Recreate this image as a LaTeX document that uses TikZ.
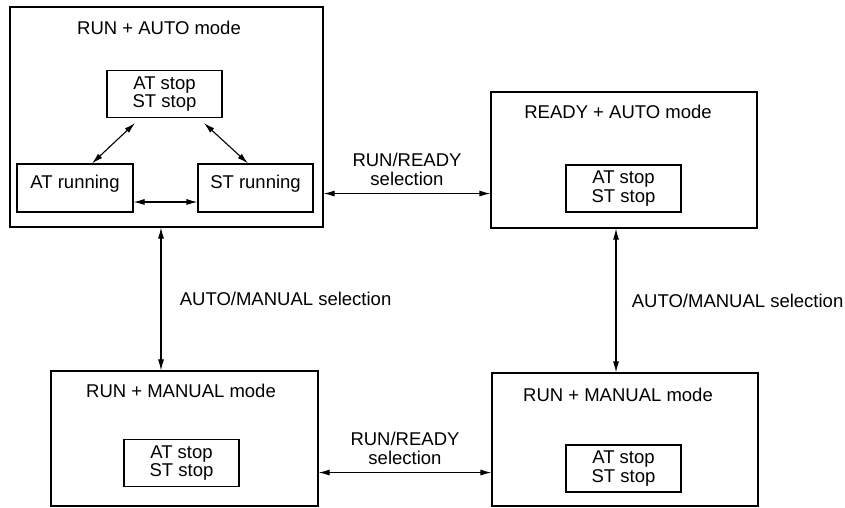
\documentclass[tikz,border=0pt]{standalone}
\usepackage{fontspec}
\setmainfont{Liberation Sans}
\usetikzlibrary{arrows.meta,positioning}
\begin{document}
\begin{tikzpicture}[x=1pt,y=1pt,>={Latex[length=11pt,width=6pt]},line width=1.1pt,
        font=\fontsize{18.5}{18.5}\selectfont,
        modebox/.style={draw, rectangle, minimum width=266pt, inner sep=0pt},
        stopbox/.style={draw, rectangle, minimum width=115pt, minimum height=47pt, align=center, inner sep=0pt},
        runbox/.style={draw, rectangle, minimum width=116pt, minimum height=48pt, text depth=12pt, inner sep=0pt}]
        \useasboundingbox (0,0) rectangle (845,508);

        \node (runauto) [modebox, minimum width=313pt, minimum height=220pt] at (166.5,391) {};
        \node (runautotitle) at ([xshift=-7.5pt,yshift=-21pt]runauto.north) {RUN + AUTO mode};
        \node (stop1) [stopbox] at (164.5,414) {AT stop\\ST stop};
        \node (atrun) [runbox] at (75,320) {AT running};
        \node (strun) [runbox, minimum width=115pt] at (255.5,320) {ST running};

        \node (readyauto) [modebox, minimum height=136pt] at (624,348) {};
        \node (readyautotitle) at ([xshift=-6pt,yshift=-20pt]readyauto.north) {READY + AUTO mode};
        \node (stop2) [stopbox] at (623.5,319.5) {AT stop\\ST stop};

        \node (runmanual) [modebox, minimum width=267pt, minimum height=135pt] at (184.5,69.5) {};
        \node (runmanualtitle) at ([xshift=-3.5pt,yshift=-20pt]runmanual.north) {RUN + MANUAL mode};
        \node (stop4) [stopbox] at (181.5,45) {AT stop\\ST stop};

        \node (runmanualb) [modebox, minimum height=133pt] at (625,68.5) {};
        \node (runmanualbtitle) at ([xshift=-7pt,yshift=-22pt]runmanualb.north) {RUN + MANUAL mode};
        \node (stop3) [stopbox] at (623.5,39.5) {AT stop\\ST stop};

        \draw[<->] ([xshift=-29.5pt,yshift=-5pt]stop1.south) -- ([xshift=17pt]atrun.north);
        \draw[<->] ([xshift=39.5pt,yshift=-5pt]stop1.south) -- ([xshift=-7.5pt]strun.north);
        \draw[<->] ([yshift=-14pt]atrun.east) -- ([yshift=-14pt]strun.west);

        \coordinate (sel1) at ([yshift=34pt]runauto.south east);
        \draw[<->] (sel1) -- node[above=4pt, align=center] {RUN/READY\\selection} (sel1 -| readyauto.west);
        \coordinate (sel2) at ([yshift=34pt]runmanual.south east);
        \draw[<->] (sel2) -- node[above=4pt, align=center] {RUN/READY\\selection} (sel2 -| runmanualb.west);

        \coordinate (am1) at ([xshift=-5.5pt]runauto.south);
        \draw[<->] (am1) -- node[right=15pt] {AUTO/MANUAL selection} (am1 |- runmanual.north);
        \coordinate (am2) at ([xshift=-8pt]readyauto.south);
        \draw[<->] (am2) -- node[right=12pt] {AUTO/MANUAL selection} (am2 |- runmanualb.north);
    \end{tikzpicture}
\end{document}
